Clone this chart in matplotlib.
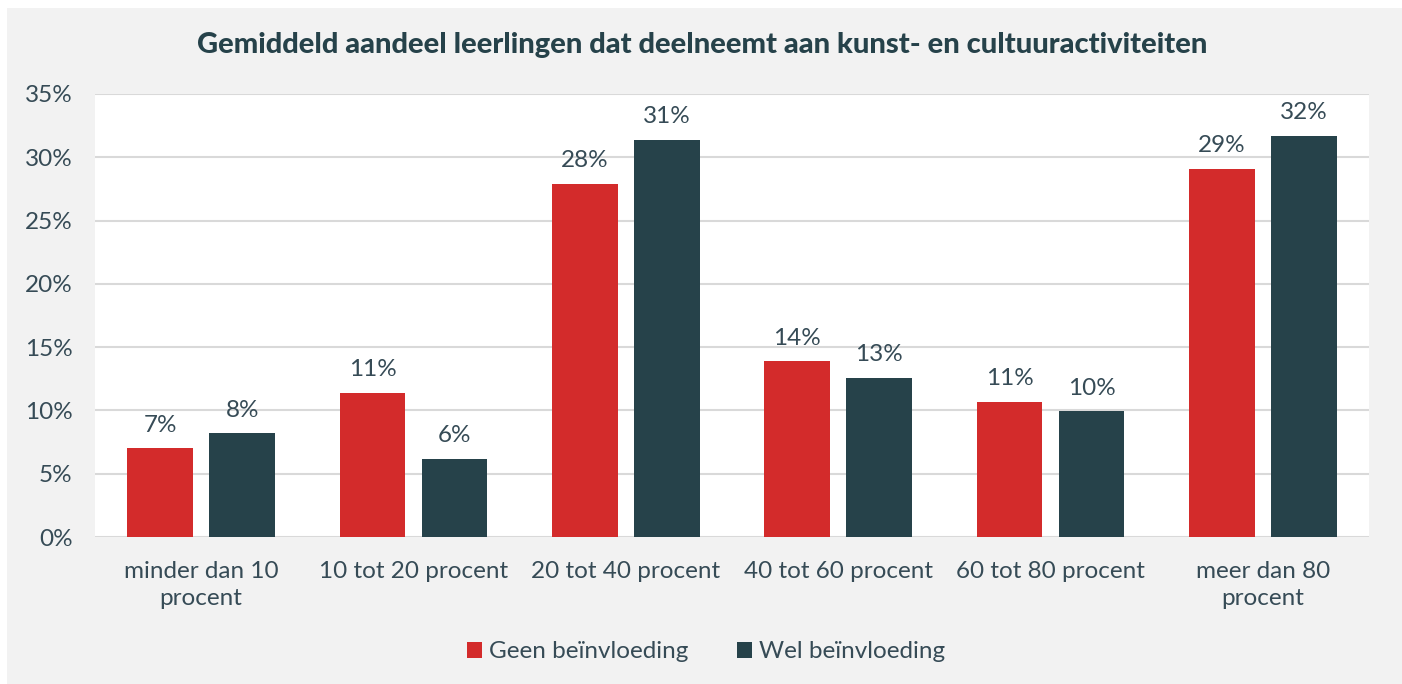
import matplotlib
matplotlib.use("Agg")
import matplotlib.pyplot as plt
from matplotlib.patches import Rectangle
import numpy as np

categories = ["minder dan 10\nprocent", "10 tot 20 procent", "20 tot 40 procent",
              "40 tot 60 procent", "60 tot 80 procent", "meer dan 80\nprocent"]
geen = [7.0, 11.4, 27.9, 13.9, 10.7, 29.1]
wel = [8.2, 6.2, 31.4, 12.6, 9.95, 31.7]
geen_labels = ["7%", "11%", "28%", "14%", "11%", "29%"]
wel_labels = ["8%", "6%", "31%", "13%", "10%", "32%"]
series_names = ["Geen beïnvloeding", "Wel beïnvloeding"]
yticks = [0, 5, 10, 15, 20, 25, 30, 35]

RED = "#D32B2B"
DARK = "#26424A"
TXT = "#364B56"
FS = 17.5
plt.rcParams['font.family'] = ['Lato', 'DejaVu Sans']

W, H = 1402, 684
fig = plt.figure(figsize=(W/100, H/100), dpi=100, facecolor="white")
fig.patches.append(Rectangle((7/W, 0), 1 - 7/W, 1 - 8/H, transform=fig.transFigure,
                             facecolor="#F2F2F2", edgecolor="none", zorder=-10))

ax = fig.add_axes([95/W, 1 - 537/H, (1369-95)/W, (537-94)/H])
ax.set_facecolor("white")
x = np.arange(len(categories))
bw = 0.31
off = 0.193
b1 = ax.bar(x - off, geen, bw, color=RED, label=series_names[0], zorder=3)
b2 = ax.bar(x + off, wel, bw, color=DARK, label=series_names[1], zorder=3)
for bars, labs in ((b1, geen_labels), (b2, wel_labels)):
    for rect, lab in zip(bars, labs):
        ax.annotate(lab, (rect.get_x() + rect.get_width()/2, rect.get_height()),
                    xytext=(0, 9), textcoords="offset points", ha="center", va="bottom",
                    fontsize=FS, color=TXT)

ax.set_xlim(-0.5, len(categories) - 0.5)
ax.set_ylim(0, 35)
ax.set_yticks(yticks)
ax.set_yticklabels([f"{t}%" for t in yticks], fontsize=FS, color=TXT)
ax.set_xticks(x)
ax.set_xticklabels(categories, fontsize=FS, color=TXT, linespacing=1.4)
ax.tick_params(axis="both", length=0)
ax.tick_params(axis="y", pad=16)
ax.tick_params(axis="x", pad=17)
ax.grid(axis="y", color="#D9D9D9", linewidth=1.5, zorder=0)
for s in ax.spines.values():
    s.set_visible(False)

fig.text((197+1208)/2/W, 1 - 45/H, "Gemiddeld aandeel leerlingen dat deelneemt aan kunst- en cultuuractiviteiten",
         ha="center", va="center", fontsize=21, fontweight="black", color="#26424A")

fig.legend(handles=[b1, b2], labels=series_names, loc="center", bbox_to_anchor=(706/W, 1 - 652/H),
           ncol=2, frameon=False, fontsize=FS, handlelength=0.6, handleheight=0.6,
           handletextpad=0.3, columnspacing=2.0, labelcolor=TXT)

fig.savefig("out.png", dpi=100, facecolor=fig.get_facecolor())
